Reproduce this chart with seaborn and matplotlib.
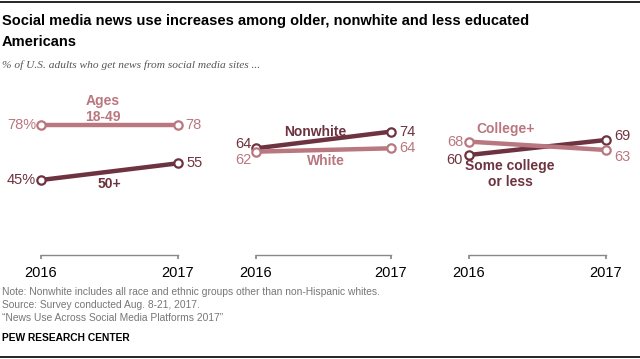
import numpy as np
import pandas as pd
import matplotlib
matplotlib.use("Agg")
import matplotlib.pyplot as plt
import seaborn as sns

# ==============================
# Data
# ==============================
years = [2016, 2017]

age_groups = ["Ages\n18-49", "50+"]
age_young = [78, 78]
age_old = [45, 55]

race_groups = ["White", "Nonwhite"]
race_white = [62, 64]
race_nonwhite = [64, 74]

edu_groups = ["College+", "Some college\nor less"]
edu_college = [68, 63]
edu_some = [60, 69]

DARK = "#6e3340"
LIGHT = "#b9777f"

sns.set_theme(style="white")
plt.rcParams["font.family"] = ["Liberation Sans", "DejaVu Sans"]

fig = plt.figure(figsize=(6.4, 3.59), dpi=100)
W, H = 640, 359


def make_ax(x2016, x2017):
    unit = x2017 - x2016
    left = x2016 - 0.25 * unit
    ax = fig.add_axes([left / W, (H - 255) / H, 1.5 * unit / W, 166.7 / H])
    ax.set_xlim(2015.75, 2017.25)
    ax.set_ylim(0, 100)
    return ax


def draw(ax, vals, color):
    df = pd.DataFrame({"year": years, "value": vals})
    sns.lineplot(data=df, x="year", y="value", ax=ax, color=color, lw=3.2,
                 marker="o", markersize=6, markerfacecolor="white",
                 mec=color, mew=1.6, solid_capstyle="round")


def style(ax):
    for s in ["top", "right", "left"]:
        ax.spines[s].set_visible(False)
    ax.spines["bottom"].set_bounds(2016, 2017)
    ax.spines["bottom"].set_color("#888888")
    ax.spines["bottom"].set_linewidth(1.0)
    ax.set_xticks(years)
    ax.set_xticklabels([str(y) for y in years], fontsize=10.5, color="black")
    ax.tick_params(axis="x", direction="out", length=3, color="#888888", pad=5,
                   bottom=True)
    ax.set_yticks([])
    ax.set_xlabel("")
    ax.set_ylabel("")


def lab(ax, text, x, y, dx, dy, color, ha="center", bold=False, size=10.5):
    ax.annotate(text, (x, y), xytext=(dx, dy), textcoords="offset pixels",
                ha=ha, va="center", color=color, fontsize=size,
                fontweight="bold" if bold else "normal", linespacing=1.1)


# Panel 1: age
ax1 = make_ax(41, 178)
draw(ax1, age_old, DARK)
draw(ax1, age_young, LIGHT)
style(ax1)
lab(ax1, f"{age_young[0]}%", 2016, age_young[0], -5, 0, LIGHT, ha="right")
lab(ax1, f"{age_young[1]}", 2017, age_young[1], 7, 0, LIGHT, ha="left")
lab(ax1, f"{age_old[0]}%", 2016, age_old[0], -5, 0, DARK, ha="right")
lab(ax1, f"{age_old[1]}", 2017, age_old[1], 8, 0, DARK, ha="left")
lab(ax1, age_groups[0], 2016.45, age_young[0], 0, 16, LIGHT, bold=True, size=10)
lab(ax1, age_groups[1], 2016.5, 49.8, 0, -12, DARK, bold=True, size=10)

# Panel 2: race
ax2 = make_ax(256, 391)
draw(ax2, race_nonwhite, DARK)
draw(ax2, race_white, LIGHT)
style(ax2)
lab(ax2, f"{race_nonwhite[0]}", 2016, race_nonwhite[0], -13, 4, DARK)
lab(ax2, f"{race_white[0]}", 2016, race_white[0], -13, -8, LIGHT)
lab(ax2, f"{race_nonwhite[1]}", 2017, race_nonwhite[1], 8, 0, DARK, ha="left")
lab(ax2, f"{race_white[1]}", 2017, race_white[1], 8, 0, LIGHT, ha="left")
lab(ax2, race_groups[1], 2016.44, 69, 0, 8, DARK, bold=True, size=10)
lab(ax2, race_groups[0], 2016.52, 63, 0, -11, LIGHT, bold=True, size=10)

# Panel 3: education
ax3 = make_ax(469, 606)
draw(ax3, edu_some, DARK)
draw(ax3, edu_college, LIGHT)
style(ax3)
lab(ax3, f"{edu_college[0]}", 2016, edu_college[0], -6, 0, LIGHT, ha="right")
lab(ax3, f"{edu_some[0]}", 2016, edu_some[0], -6, -5, DARK, ha="right")
lab(ax3, f"{edu_some[1]}", 2017, edu_some[1], 8, 4, DARK, ha="left")
lab(ax3, f"{edu_college[1]}", 2017, edu_college[1], 8, -7, LIGHT, ha="left")
lab(ax3, edu_groups[0], 2016.27, 68, 0, 13, LIGHT, bold=True, size=10)
lab(ax3, edu_groups[1], 2016.3, 60, 0, -19, DARK, bold=True, size=10)

# ==============================
# Titles and notes
# ==============================
fig.add_artist(plt.Line2D([0, 1], [1 - 1.5 / H, 1 - 1.5 / H], color="black", lw=1.2))
fig.add_artist(plt.Line2D([0, 1], [2 / H, 2 / H], color="black", lw=1.2))

fig.text(2 / W, 1 - 31.5 / H,
         "Social media news use increases among older, nonwhite and less educated\nAmericans",
         ha="left", va="center", fontsize=10.5, fontweight="bold", color="black",
         linespacing=1.65, family=["DejaVu Sans Condensed", "Liberation Sans"])
fig.text(2 / W, 1 - 65 / H, "% of U.S. adults who get news from social media sites ...",
         ha="left", va="center", fontsize=8.2, style="italic", color="#555555",
         family=["Liberation Serif", "DejaVu Serif"])

notes = ("Note: Nonwhite includes all race and ethnic groups other than non-Hispanic whites.\n"
         "Source: Survey conducted Aug. 8-21, 2017.\n"
         "\u201cNews Use Across Social Media Platforms 2017\u201d")
fig.text(2 / W, 1 - 287 / H, notes, ha="left", va="top", fontsize=7.4, color="#777777",
         linespacing=1.35)
fig.text(2 / W, 1 - 338 / H, "PEW RESEARCH CENTER", ha="left", va="center",
         fontsize=7.4, fontweight="bold", color="black")

plt.savefig("out.png", dpi=100)
